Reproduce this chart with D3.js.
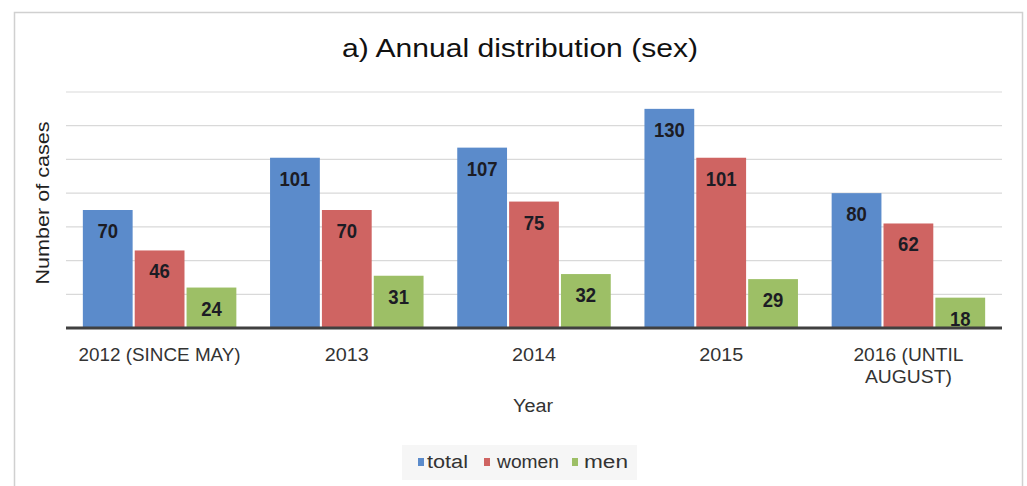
<!DOCTYPE html>
<html><head><meta charset="utf-8">
<script src="https://cdn.jsdelivr.net/npm/d3@7"></script>
<style>body{margin:0;background:#fff;}svg{display:block;font-family:"Liberation Sans",Arial,sans-serif;}</style>
</head><body>
<svg id="c" width="1027" height="486"></svg>
<script>
const categories = ["2012 (SINCE MAY)", "2013", "2014", "2015", "2016 (UNTIL AUGUST)"];
const seriesNames = ["total", "women", "men"];
const total = [70, 101, 107, 130, 80];
const women = [46, 70, 75, 101, 62];
const men = [24, 31, 32, 29, 18];
const yTicks = [0, 20, 40, 60, 80, 100, 120, 140];
const colors = ["#5b8bcb", "#cf6462", "#9dbf66"];

const svg = d3.select("#c");
const values = [total, women, men];
const data = categories.map((c, i) => ({cat: c, vals: seriesNames.map((s, j) => ({s, v: values[j][i]}))}));

const L = 66, R = 1002, T = 92, B = 328;
svg.append("rect").attr("x", 14.5).attr("y", 12.5).attr("width", 1008).attr("height", 480)
  .attr("fill", "#fff").attr("stroke", "#d0d0d0").attr("stroke-width", 1.5);

const x = d3.scaleBand().domain(categories).range([L, R]).paddingInner(0.18).paddingOuter(0.09);
const xs = d3.scaleBand().domain(seriesNames).range([0, x.bandwidth()]).paddingInner(0.04);
const y = d3.scaleLinear().domain([0, 140]).range([B, T]);

svg.append("g").selectAll("line").data(yTicks.slice(1)).join("line")
  .attr("x1", L).attr("x2", R).attr("y1", d => y(d)).attr("y2", d => y(d))
  .attr("stroke", "#d9d9d9").attr("stroke-width", 1.2);

const g = svg.append("g").selectAll("g").data(data).join("g")
  .attr("transform", d => `translate(${x(d.cat)},0)`);
g.selectAll("rect").data(d => d.vals).join("rect")
  .attr("x", d => xs(d.s)).attr("width", xs.bandwidth())
  .attr("y", d => y(d.v)).attr("height", d => y(0) - y(d.v))
  .attr("fill", (d, i) => colors[i]);
g.selectAll("text").data(d => d.vals).join("text")
  .attr("x", d => xs(d.s) + xs.bandwidth() / 2).attr("y", d => y(d.v) + 28)
  .attr("text-anchor", "middle").attr("font-size", 20).attr("font-weight", "bold")
  .attr("textLength", d => String(d.v).length * 10.3).attr("lengthAdjust", "spacingAndGlyphs")
  .attr("fill", "#1c1c24").text(d => d.v);

svg.append("line").attr("x1", L).attr("x2", R).attr("y1", B).attr("y2", B)
  .attr("stroke", "#404040").attr("stroke-width", 3);

const xAxis = svg.append("g").attr("transform", `translate(0,${B})`)
  .call(d3.axisBottom(x).tickSize(0).tickFormat(""));
xAxis.select(".domain").remove();
const tickLines = {"2016 (UNTIL AUGUST)": ["2016 (UNTIL", "AUGUST)"]};
const tickWidths = {"2012 (SINCE MAY)": 162, "2013": 44, "2014": 44, "2015": 44, "2016 (UNTIL": 110, "AUGUST)": 87};
xAxis.selectAll(".tick").each(function(d) {
  const lines = tickLines[d] || [d];
  lines.forEach((ln, i) => d3.select(this).append("text").attr("fill", "#333").attr("font-size", 18)
    .attr("text-anchor", "middle").attr("x", 0).attr("y", 33 + i * 22)
    .attr("textLength", tickWidths[ln]).attr("lengthAdjust", "spacingAndGlyphs").text(ln));
});

svg.append("text").attr("x", 520).attr("y", 57).attr("text-anchor", "middle")
  .attr("font-size", 26).attr("fill", "#111").attr("textLength", 356).attr("lengthAdjust", "spacingAndGlyphs")
  .text("a) Annual distribution (sex)");
svg.append("text").attr("transform", "translate(49,203) rotate(-90)").attr("text-anchor", "middle")
  .attr("font-size", 18).attr("fill", "#222").attr("textLength", 163).attr("lengthAdjust", "spacingAndGlyphs")
  .text("Number of cases");
svg.append("text").attr("x", 533).attr("y", 412).attr("text-anchor", "middle")
  .attr("font-size", 18).attr("fill", "#333").attr("textLength", 40).attr("lengthAdjust", "spacingAndGlyphs")
  .text("Year");

const leg = svg.append("g");
leg.append("rect").attr("x", 402).attr("y", 445).attr("width", 235).attr("height", 35).attr("fill", "#f6f6f6");
const legSq = [418, 484, 572];
const legTx = [427, 497, 584];
const legW = [41, 62, 44];
seriesNames.forEach((s, i) => {
  leg.append("rect").attr("x", legSq[i]).attr("y", 458).attr("width", 6).attr("height", 8).attr("fill", colors[i]);
  leg.append("text").attr("x", legTx[i]).attr("y", 468).attr("font-size", 18).attr("fill", "#333")
    .attr("textLength", legW[i]).attr("lengthAdjust", "spacingAndGlyphs").text(s);
});
</script>
</body></html>
